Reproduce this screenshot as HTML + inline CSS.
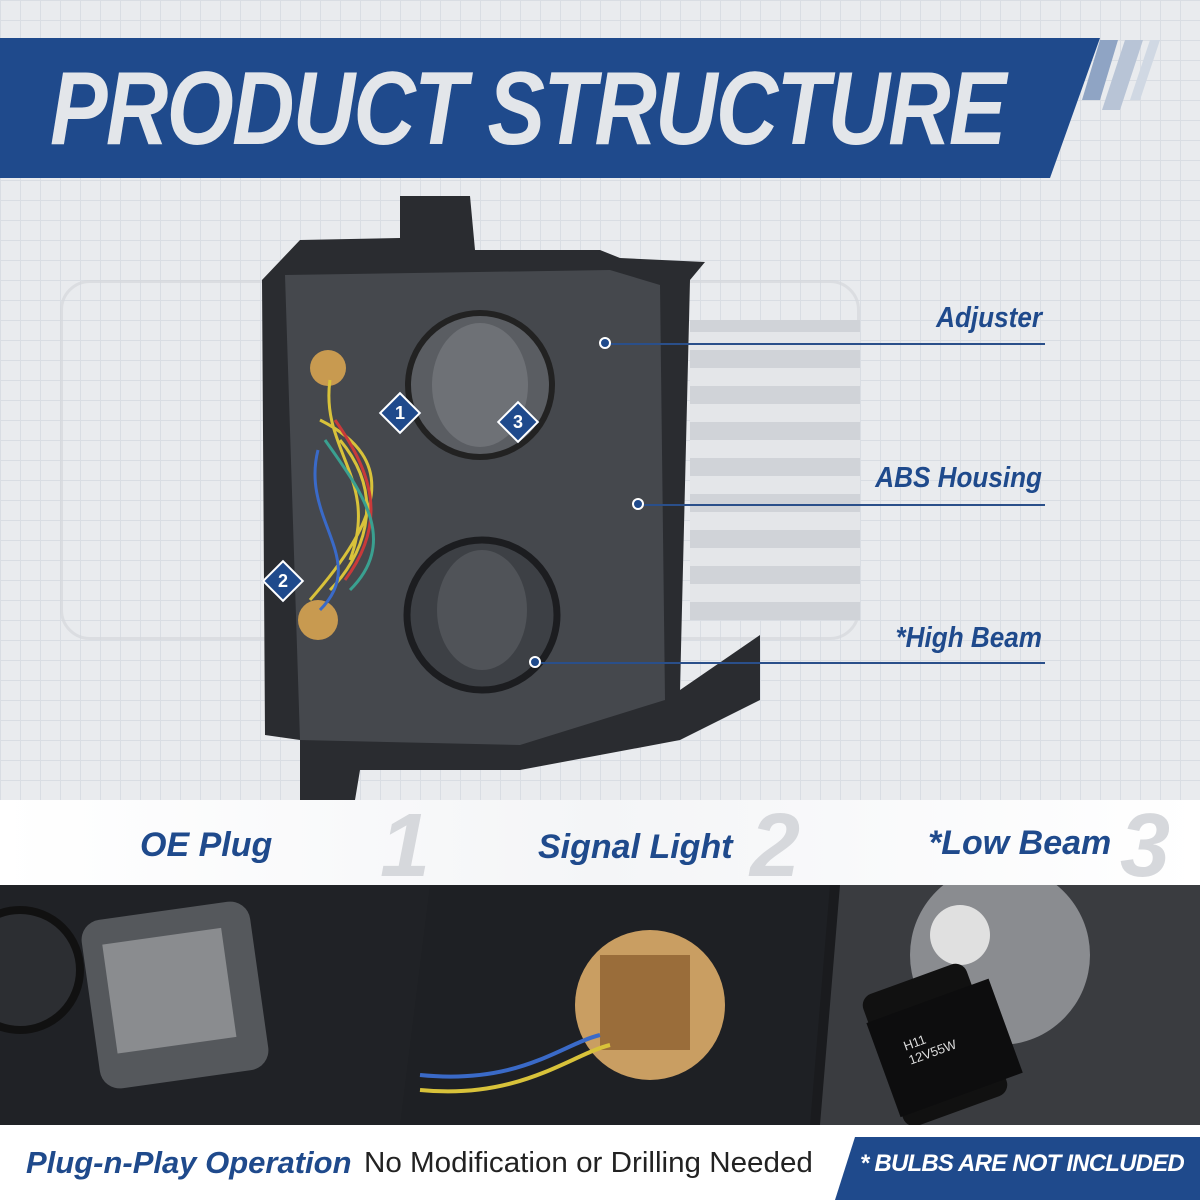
<!DOCTYPE html>
<html><head><meta charset="utf-8"><style>
*{margin:0;padding:0;box-sizing:border-box}
body{width:1200px;height:1200px;overflow:hidden;position:relative;font-family:"Liberation Sans",sans-serif;background:#eceef1}
.abs{position:absolute}
.grid{left:0;top:0;width:1200px;height:800px;background-color:#e9ebee;background-image:linear-gradient(#d9dde3 1px,transparent 1px),linear-gradient(90deg,#d9dde3 1px,transparent 1px);background-size:20px 20px}
.lbl{color:#1f4a8c;font-weight:bold;font-style:italic;font-size:29px;transform:scaleX(.9);transform-origin:right;text-align:right;width:400px}
.lab{color:#1f4a8c;font-weight:bold;font-style:italic}
.line{height:2px;background:#2a4f8a}
.dot{width:12px;height:12px;border-radius:50%;background:#1f4a8c;border:2px solid #fff}
.num{color:#d6d8dc;font-weight:bold;font-style:italic;font-size:90px}
.badge{width:30px;height:30px;background:#1f4a8c;border:2px solid #fff;transform:rotate(45deg);}
.badge span{display:block;transform:rotate(-45deg);color:#fff;font-weight:bold;font-size:18px;text-align:center;line-height:26px}
</style></head><body>
<div class="abs grid"></div>
<div class="abs" style="left:60px;top:280px;width:800px;height:360px;border:3px solid #d4d7dc;border-radius:30px;opacity:.7"></div>
<div class="abs" style="left:690px;top:320px;width:170px;height:300px;background:repeating-linear-gradient(0deg,#d0d3d8 0 18px,#e4e6e9 18px 36px)"></div>
<svg class="abs" style="left:0;top:0" width="1200" height="190">
<polygon points="0,38 1100,38 1050,178 0,178" fill="#1f4a8c"/>
<polygon points="1100,40 1118,40 1100,100 1082,100" fill="#8fa4c4"/>
<polygon points="1125,40 1143,40 1120,110 1102,110" fill="#b8c4d6"/>
<polygon points="1150,40 1160,40 1140,100 1130,100" fill="#d0d8e3"/>
</svg>
<div class="abs" style="left:50px;top:50px;font-size:104px;font-weight:900;font-style:italic;color:#e3e6ea;letter-spacing:-2px;transform:scaleX(.83);transform-origin:left;white-space:nowrap">PRODUCT STRUCTURE</div>
<svg class="abs" style="left:0;top:0" width="1200" height="820">
<path d="M300,240 L400,238 L400,196 L470,196 L475,250 L600,250 L620,258 L705,262 L690,280 L680,690 L760,635 L760,700 L680,740 L520,770 L360,770 L355,800 L300,800 L300,740 L265,735 L262,280 Z" fill="#2a2c30"/>
<path d="M285,275 L610,270 L660,285 L665,700 L520,745 L300,740 Z" fill="#45484d"/>
<circle cx="480" cy="385" r="72" fill="#5a5d62" stroke="#222" stroke-width="6"/>
<ellipse cx="480" cy="385" rx="48" ry="62" fill="#6e7176"/>
<circle cx="482" cy="615" r="75" fill="#3d4045" stroke="#1c1d20" stroke-width="7"/>
<ellipse cx="482" cy="610" rx="45" ry="60" fill="#505358"/>
<circle cx="328" cy="368" r="18" fill="#c89a50"/>
<circle cx="318" cy="620" r="20" fill="#c89a50"/>
<path d="M330,380 C320,450 380,480 350,560 M320,420 C400,460 380,520 310,600 M340,440 C390,500 360,560 330,590" stroke="#d8c23a" stroke-width="3" fill="none"/>
<path d="M335,420 C370,470 390,520 345,580" stroke="#c83a3a" stroke-width="3" fill="none"/>
<path d="M325,440 C360,490 400,540 350,590" stroke="#3aa090" stroke-width="3" fill="none"/>
<path d="M318,450 C300,520 370,560 320,610" stroke="#3a6ac8" stroke-width="3" fill="none"/>
</svg>
<div class="abs badge" style="left:385px;top:398px"><span>1</span></div>
<div class="abs badge" style="left:268px;top:566px"><span>2</span></div>
<div class="abs badge" style="left:503px;top:407px"><span>3</span></div>
<div class="abs lbl" style="left:642px;top:302px">Adjuster</div>
<div class="abs line" style="left:605px;top:343px;width:440px"></div>
<div class="abs dot" style="left:599px;top:337px"></div>
<div class="abs lbl" style="left:642px;top:462px">ABS Housing</div>
<div class="abs line" style="left:640px;top:504px;width:405px"></div>
<div class="abs dot" style="left:632px;top:498px"></div>
<div class="abs lbl" style="left:642px;top:622px">*High Beam</div>
<div class="abs line" style="left:535px;top:662px;width:510px"></div>
<div class="abs dot" style="left:529px;top:656px"></div>
<div class="abs" style="left:0;top:800px;width:1200px;height:88px;background:linear-gradient(90deg,#fff,#f4f5f7 50%,#fff)"></div>
<div class="abs num" style="left:380px;top:795px">1</div>
<div class="abs num" style="left:750px;top:795px">2</div>
<div class="abs num" style="left:1120px;top:795px">3</div>
<div class="abs lab" style="left:140px;top:826px;font-size:34px">OE Plug</div>
<div class="abs lab" style="left:538px;top:828px;font-size:34px">Signal Light</div>
<div class="abs lab" style="left:928px;top:824px;font-size:34px">*Low Beam</div>
<div class="abs" style="left:0;top:885px;width:1200px;height:240px;background:#1a1b1e"></div>
<svg class="abs" style="left:0;top:885px" width="1200" height="240">
<rect x="0" y="0" width="430" height="240" fill="#202226"/>
<rect x="90" y="25" width="170" height="170" rx="20" fill="#55585c" transform="rotate(-8 175 110)"/>
<rect x="110" y="50" width="120" height="110" fill="#8a8c8f" transform="rotate(-8 175 110)"/>
<circle cx="20" cy="85" r="60" fill="#2c2e32" stroke="#111" stroke-width="8"/>
<polygon points="430,0 830,0 810,240 400,240" fill="#1e2024"/>
<circle cx="650" cy="120" r="75" fill="#c99e62"/>
<rect x="600" y="70" width="90" height="95" fill="#9a6d3a"/>
<path d="M420,190 C520,200 560,160 600,150" stroke="#3a6ac8" stroke-width="4" fill="none"/>
<path d="M420,205 C520,215 570,170 610,160" stroke="#d8c23a" stroke-width="4" fill="none"/>
<polygon points="840,0 1200,0 1200,240 820,240" fill="#3a3c40"/>
<circle cx="1000" cy="70" r="90" fill="#8a8c90"/>
<circle cx="960" cy="50" r="30" fill="#e0e0e0"/>
<rect x="880" y="90" width="110" height="140" rx="12" fill="#111" transform="rotate(-20 935 160)"/>
<rect x="878" y="116" width="130" height="100" fill="#0d0d0e" transform="rotate(-20 935 160)"/>
</svg>
<div class="abs" style="left:905px;top:1030px;color:#ddd;font-size:13px;transform:rotate(-20deg)">H11<br>12V55W</div>
<div class="abs" style="left:0;top:1125px;width:1200px;height:75px;background:#fff"></div>
<div class="abs" style="left:26px;top:1145px;font-size:31px;font-weight:bold;font-style:italic;color:#1f4a8c;white-space:nowrap">Plug-n-Play Operation</div>
<div class="abs" style="left:364px;top:1147px;font-size:29px;color:#222;white-space:nowrap;transform:scaleX(1.02);transform-origin:left">No Modification or Drilling Needed</div>
<svg class="abs" style="left:0;top:1125px" width="1200" height="75"><polygon points="855,12 1200,12 1200,75 835,75" fill="#1f4a8c"/></svg>
<div class="abs" style="left:860px;top:1150px;font-size:24px;font-weight:bold;font-style:italic;color:#fff;letter-spacing:-.8px;white-space:nowrap">* BULBS ARE NOT INCLUDED</div>
</body></html>
